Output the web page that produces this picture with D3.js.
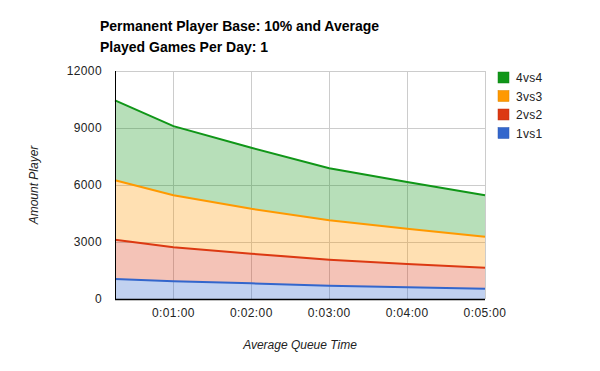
<!DOCTYPE html>
<html>
<head>
<meta charset="utf-8">
<script src="https://cdn.jsdelivr.net/npm/d3@7"></script>
<style>
  body { margin: 0; background: #fff; }
  text { font-family: Arial, "Liberation Sans", sans-serif; }
</style>
</head>
<body>
<div id="chart"></div>
<script>
// queue time in seconds, one row per sample
var times = [15, 60, 120, 180, 240, 300];
var seriesNames = ["1vs1", "2vs2", "3vs3", "4vs4"];
var v1vs1 = [1050, 930, 825, 700, 615, 540];
var v2vs2 = [2070, 1790, 1560, 1370, 1225, 1110];
var v3vs3 = [3130, 2740, 2365, 2070, 1860, 1630];
var v4vs4 = [4200, 3640, 3210, 2740, 2460, 2180];
var yTicks = [0, 3000, 6000, 9000, 12000];
var xTicks = [60, 120, 180, 240, 300];
var colors = {"1vs1": "#3366cc", "2vs2": "#dc3912", "3vs3": "#ff9900", "4vs4": "#109618"};

var props = {
  width: 600,
  height: 371,
  marginTop: 71,
  marginRight: 115,
  marginBottom: 72,
  marginLeft: 115
};

var rows = times.map(function(t, i){
  return {t: t, "1vs1": v1vs1[i], "2vs2": v2vs2[i], "3vs3": v3vs3[i], "4vs4": v4vs4[i]};
});

var svg = d3.select("#chart").append("svg")
  .attr("width", props.width)
  .attr("height", props.height);

var x = d3.scaleLinear().domain([15, 300]).range([props.marginLeft, props.width - props.marginRight]);
var y = d3.scaleLinear().domain([0, 12000]).range([props.height - props.marginBottom, props.marginTop]);

function fmtTime(s){
  var m = Math.floor(s / 60), sec = s % 60;
  return "0:" + (m < 10 ? "0" : "") + m + ":" + (sec < 10 ? "0" : "") + sec;
}

// title
var title = svg.append("text")
  .attr("x", 100).attr("y", 31)
  .style("font-size", "14px").style("font-weight", "bold").style("fill", "#000");
title.append("tspan").attr("x", 100).text("Permanent Player Base: 10% and Average");
title.append("tspan").attr("x", 100).attr("dy", 21).text("Played Games Per Day: 1");

// grid
svg.append("g").selectAll("line.h").data(yTicks.slice(1)).enter().append("line")
  .attr("x1", x.range()[0]).attr("x2", x.range()[1])
  .attr("y1", function(d){ return y(d); }).attr("y2", function(d){ return y(d); })
  .style("stroke", "#cccccc").style("stroke-width", 1).attr("shape-rendering", "crispEdges");
svg.append("g").selectAll("line.v").data(xTicks).enter().append("line")
  .attr("x1", function(d){ return x(d); }).attr("x2", function(d){ return x(d); })
  .attr("y1", y.range()[0]).attr("y2", y.range()[1])
  .style("stroke", "#cccccc").style("stroke-width", 1).attr("shape-rendering", "crispEdges");

var stack = d3.stack().keys(seriesNames);
var layers = stack(rows);

var area = d3.area()
  .x(function(d){ return x(d.data.t); })
  .y0(function(d){ return y(d[0]); })
  .y1(function(d){ return y(d[1]); });
var topLine = d3.line()
  .x(function(d){ return x(d.data.t); })
  .y(function(d){ return y(d[1]); });

svg.append("g").selectAll("path").data(layers).enter().append("path")
  .attr("d", area)
  .style("fill", function(d){ return colors[d.key]; })
  .style("fill-opacity", 0.3);

svg.append("g").selectAll("path").data(layers).enter().append("path")
  .attr("d", topLine)
  .style("fill", "none")
  .style("stroke", function(d){ return colors[d.key]; })
  .style("stroke-width", 2);

// axes lines
svg.append("line")
  .attr("x1", x.range()[0]).attr("x2", x.range()[0])
  .attr("y1", y.range()[0]).attr("y2", y.range()[1])
  .style("stroke", "#000").attr("shape-rendering", "crispEdges");
svg.append("line")
  .attr("x1", x.range()[0]).attr("x2", x.range()[1])
  .attr("y1", y.range()[0] + 0.5).attr("y2", y.range()[0] + 0.5)
  .style("stroke", "#000").style("stroke-width", 1.5);

// tick labels
svg.append("g").selectAll("text").data(yTicks).enter().append("text")
  .attr("x", 102).attr("y", function(d){ return y(d) + 4; })
  .attr("text-anchor", "end")
  .style("font-size", "12px").style("letter-spacing", "0.4px").style("fill", "#222")
  .text(function(d){ return d; });

svg.append("g").selectAll("text").data(xTicks).enter().append("text")
  .attr("x", function(d){ return x(d); }).attr("y", 317)
  .attr("text-anchor", "middle")
  .style("font-size", "12px").style("letter-spacing", "0.4px").style("fill", "#222")
  .text(fmtTime);

// axis titles
svg.append("text")
  .attr("x", (x.range()[0] + x.range()[1]) / 2).attr("y", 349)
  .attr("text-anchor", "middle")
  .style("font-size", "12px").style("font-style", "italic").style("fill", "#222")
  .text("Average Queue Time");
svg.append("text")
  .attr("transform", "translate(38," + ((y.range()[0] + y.range()[1]) / 2) + ") rotate(-90)")
  .attr("text-anchor", "middle")
  .style("font-size", "12px").style("font-style", "italic").style("fill", "#222")
  .text("Amount Player");

// legend, top series first
var legend = svg.append("g").selectAll("g").data(seriesNames.slice().reverse()).enter().append("g")
  .attr("transform", function(d, i){ return "translate(498," + (72 + i * 18.5) + ")"; });
legend.append("rect")
  .attr("width", 11).attr("height", 11)
  .style("fill", function(d){ return colors[d]; })
  .style("stroke", function(d){ return d3.color(colors[d]).darker(0.4); })
  .style("stroke-width", 0.5);
legend.append("text")
  .attr("x", 18).attr("y", 10)
  .style("font-size", "12px").style("letter-spacing", "0.3px").style("fill", "#222")
  .text(function(d){ return d; });
</script>
</body>
</html>
